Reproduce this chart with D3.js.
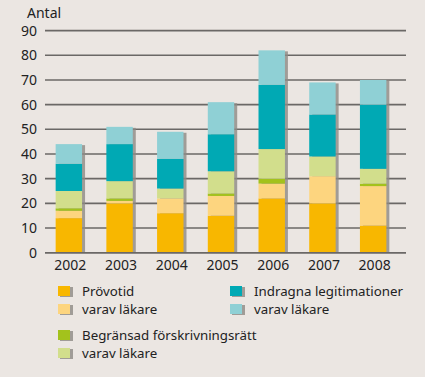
<!DOCTYPE html>
<html>
<head>
<meta charset="utf-8">
<script src="https://cdn.jsdelivr.net/npm/d3@7"></script>
<style>
  body { margin: 0; background: #ebe6e2; }
  svg { display: block; font-family: "Noto Sans", "Open Sans", sans-serif; }
</style>
</head>
<body>
<div id="chart"></div>
<script>
var years = ["2002", "2003", "2004", "2005", "2006", "2007", "2008"]
var provotid = [14, 20, 16, 15, 22, 20, 11]
var provotidLakare = [3, 1, 6, 8, 6, 11, 16]
var begransad = [1, 1, 0, 1, 2, 0, 1]
var begransadLakare = [7, 7, 4, 9, 12, 8, 6]
var indragna = [11, 15, 12, 15, 26, 17, 26]
var indragnaLakare = [8, 7, 11, 13, 14, 13, 10]
var yTicks = [0, 10, 20, 30, 40, 50, 60, 70, 80, 90]

var keys = ["provotid", "provotidLakare", "begransad", "begransadLakare", "indragna", "indragnaLakare"]
var color = d3.scaleOrdinal()
  .domain(keys)
  .range(["#f8b700", "#fdd57f", "#a3c21c", "#d2de8c", "#00a9b4", "#8fd0d5"])

var rows = years.map(function (y, i) {
  return {
    year: y,
    provotid: provotid[i], provotidLakare: provotidLakare[i],
    begransad: begransad[i], begransadLakare: begransadLakare[i],
    indragna: indragna[i], indragnaLakare: indragnaLakare[i]
  }
})
var series = d3.stack().keys(keys)(rows)

var W = 425, H = 377

var svg = d3.select("#chart").append("svg")
  .attr("width", W)
  .attr("height", H)

svg.append("rect").attr("width", W).attr("height", H).attr("fill", "#ebe6e2")

var x = d3.scaleBand()
  .domain(years)
  .range([45, 400])
  .paddingInner(0.42)
  .paddingOuter(0.21)

var y = d3.scaleLinear()
  .domain([0, 90])
  .range([252.7, 30.6])

// grid lines
svg.selectAll(".grid")
  .data(yTicks)
  .enter().append("line")
  .attr("x1", 45)
  .attr("x2", 406)
  .attr("y1", d => y(d))
  .attr("y2", d => y(d))
  .attr("stroke", "#6b6866")
  .attr("stroke-width", 1.6)

svg.selectAll(".ytick")
  .data(yTicks)
  .enter().append("text")
  .attr("x", 37)
  .attr("y", d => y(d) + 5)
  .attr("text-anchor", "end")
  .attr("font-size", 14)
  .attr("fill", "#222")
  .text(d => d)

svg.append("text")
  .attr("x", 27)
  .attr("y", 18)
  .attr("font-size", 14)
  .attr("fill", "#222")
  .text("Antal")

var bw = x.bandwidth() - 3

// bar shadow
svg.selectAll(".shadow")
  .data(rows)
  .enter().append("rect")
  .attr("x", d => x(d.year) + 3)
  .attr("y", (d, i) => y(series[5][i][1]) + 1)
  .attr("width", bw)
  .attr("height", (d, i) => y(0) - y(series[5][i][1]) - 1)
  .attr("fill", "#8d8985")
  .attr("opacity", 0.8)

svg.selectAll(".layer")
  .data(series)
  .enter().append("g")
  .attr("fill", d => color(d.key))
  .selectAll("rect")
  .data(d => d)
  .enter().append("rect")
  .attr("x", d => x(d.data.year))
  .attr("y", d => y(d[1]))
  .attr("width", bw)
  .attr("height", d => y(d[0]) - y(d[1]))

// baseline
svg.append("line")
  .attr("x1", 45).attr("x2", 406)
  .attr("y1", y(0)).attr("y2", y(0))
  .attr("stroke", "#6b6866")
  .attr("stroke-width", 1.6)

svg.selectAll(".xlabel")
  .data(years)
  .enter().append("text")
  .attr("x", d => x(d) + x.bandwidth() / 2)
  .attr("y", 270)
  .attr("text-anchor", "middle")
  .attr("font-size", 14)
  .attr("fill", "#222")
  .text(d => d)

// legend
var legendItems = [
  { key: "provotid", label: "Prövotid", lx: 58, ly: 286 },
  { key: "provotidLakare", label: "varav läkare", lx: 58, ly: 304 },
  { key: "begransad", label: "Begränsad förskrivningsrätt", lx: 58, ly: 330 },
  { key: "begransadLakare", label: "varav läkare", lx: 58, ly: 348 },
  { key: "indragna", label: "Indragna legitimationer", lx: 230, ly: 286 },
  { key: "indragnaLakare", label: "varav läkare", lx: 230, ly: 304 }
]

var legend = svg.selectAll(".legend")
  .data(legendItems)
  .enter().append("g")
  .attr("transform", d => "translate(" + d.lx + "," + d.ly + ")")

legend.append("rect")
  .attr("x", 2).attr("y", 1)
  .attr("width", 13).attr("height", 10)
  .attr("fill", "#8d8985")
  .attr("opacity", 0.8)

legend.append("rect")
  .attr("width", 12).attr("height", 10)
  .attr("fill", d => color(d.key))

legend.append("text")
  .attr("x", 24)
  .attr("y", 10)
  .attr("font-size", 13.3)
  .attr("fill", "#222")
  .text(d => d.label)
</script>
</body>
</html>
